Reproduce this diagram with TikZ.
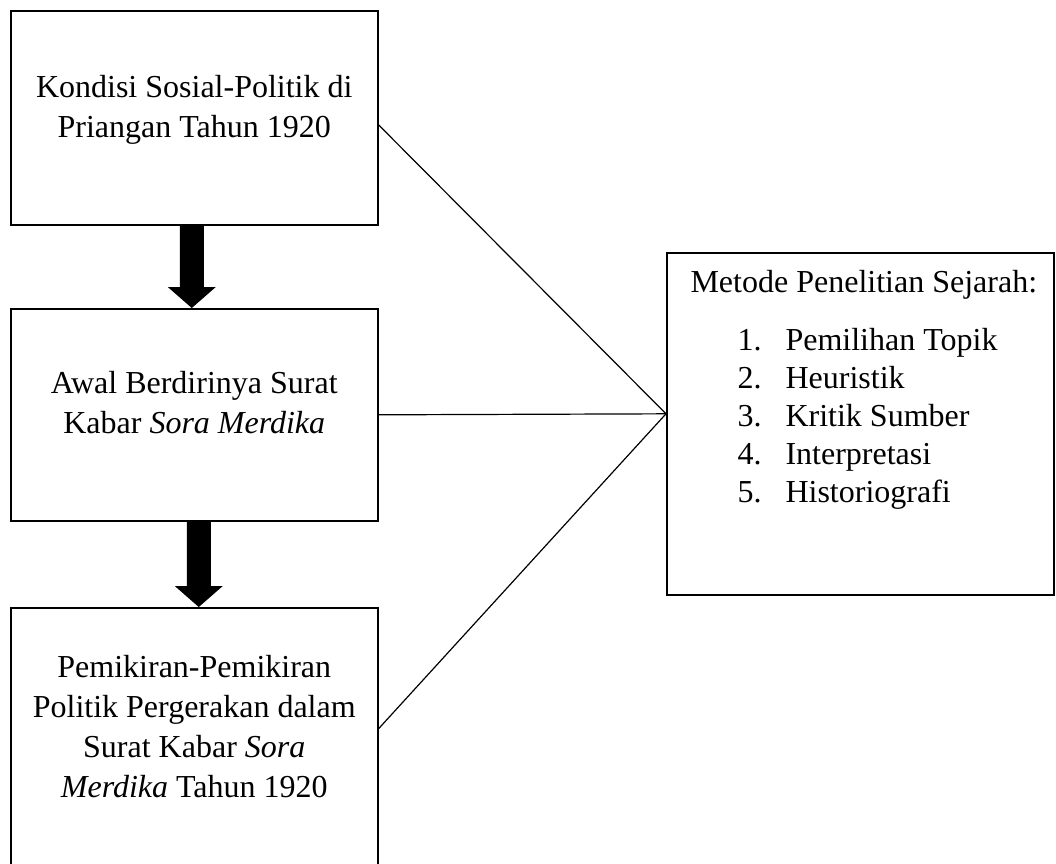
\documentclass[tikz,border=0pt]{standalone}
\usepackage{fontspec}
\setmainfont{Liberation Serif}
\usetikzlibrary{positioning,calc}

% thick block arrow between two stacked boxes (#3 = x offset of its centre)
\newcommand{\fatarrow}[3]{%
  \fill ($(#1.south)+(#3-12,0)$) -- ($(#1.south)+(#3+12,0)$)
    -- ($(#2.north)+(#3+12,-21)$) -- ($(#2.north)+(#3+24,-21)$)
    -- ($(#2.north)+(#3,0)$)
    -- ($(#2.north)+(#3-24,-21)$) -- ($(#2.north)+(#3-12,-21)$) -- cycle;}

\begin{document}
\begin{tikzpicture}[
    x=0.375pt, y=-0.375pt,
    font=\fontsize{12pt}{15pt}\selectfont,
    box/.style={draw, line width=0.6pt, minimum width=137.6pt, inner sep=0pt, anchor=north west},
    boxtext/.style={align=center, inner sep=0pt, anchor=north},
    link/.style={line width=0.45pt}
]
\clip (0,0) rectangle (1056,863);

% Boxes
\node[box, minimum height=80.25pt] (kondisi) at (10,10) {};
\node[box, minimum height=79.5pt] (awal) at (10,308) {};
\node[box, minimum height=98.6pt] (pemikiran) at (10,607) {};
\node[box, minimum width=145.1pt, minimum height=128.25pt] (metode) at (666,252) {};

% Box texts
\node[boxtext] (kondisitext) at ($(kondisi.north)+(0,65)$) {Kondisi Sosial-Politik di\\Priangan Tahun 1920};
\node[boxtext] (awaltext) at ($(awal.north)+(0,63)$) {Awal Berdirinya Surat\\Kabar \textit{Sora Merdika}};
\node[boxtext] (pemikirantext) at ($(pemikiran.north)+(0,48)$) {Pemikiran-Pemikiran\\Politik Pergerakan dalam\\Surat Kabar \textit{Sora}\\\textit{Merdika} Tahun 1920};

% Method list
\node[anchor=base west, inner sep=0pt] (metodetitle) at (690,292) {Metode Penelitian Sejarah:};
\foreach \n/\step in {1/Pemilihan Topik, 2/Heuristik, 3/Kritik Sumber, 4/Interpretasi, 5/Historiografi}
  \node[anchor=base west, inner sep=0pt] (step\n) at (737,312+38*\n) {\makebox[18pt][l]{\n.}\step};

% Block arrows
\fatarrow{kondisi}{awal}{-2.5}
\fatarrow{awal}{pemikiran}{4.5}

% Links to the method box
\coordinate (join) at ($(metode.west)+(0,-10)$);
\draw[link] ($(kondisi.east)+(0,7)$) -- (join);
\draw[link] (awal.east) -- (join);
\draw[link] ($(pemikiran.east)+(0,-10.5)$) -- (join);

\end{tikzpicture}
\end{document}
